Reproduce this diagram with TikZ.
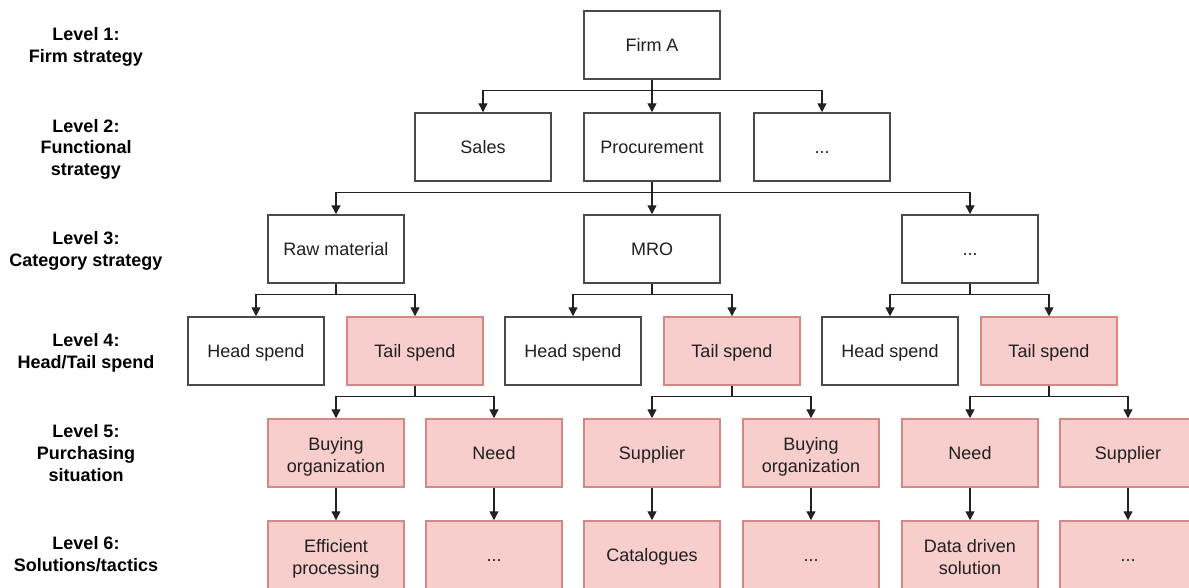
\documentclass[tikz,border=0pt]{standalone}
\usepackage{fontspec}
\setmainfont{Liberation Sans}
\usetikzlibrary{arrows.meta}
\definecolor{pinkfill}{HTML}{F8CECC}
\definecolor{pinkline}{HTML}{D38886}
\definecolor{boxline}{HTML}{4A4A4A}
\definecolor{wire}{HTML}{222222}
\newcommand\mystrut{\rule[-4.75pt]{0pt}{22.5pt}}
\newcommand\topstrut{\rule{0pt}{22pt}}
\begin{document}
\begin{tikzpicture}[x=1pt,y=-1pt,
  box/.style={draw=boxline, line width=1.5pt, fill=white, minimum width=136pt, minimum height=68pt,
    inner sep=0pt, align=center, font=\fontsize{18}{22.5}\selectfont, text=black!88,
    execute at begin node=\mystrut},
  tail/.style={box, draw=pinkline, fill=pinkfill},
  lvl/.style={align=center, font=\bfseries\fontsize{18}{21.5}\selectfont, text=black,
    execute at begin node=\rule{0pt}{22.5pt}},
  conn/.style={draw=wire, line width=1.4pt, -{Triangle[length=9pt,width=9pt]}}]
\useasboundingbox (0,0) rectangle (1189,587);
\clip (0,0) rectangle (1189,587);

% level labels
\node[lvl] (l1) at (86,47.5) {Level 1:\\Firm strategy\mystrut};
\node[lvl] (l2) at (86,149.5) {Level 2:\\Functional\\strategy\mystrut};
\node[lvl] (l3) at (86,251.5) {Level 3:\\Category strategy\mystrut};
\node[lvl] (l4) at (86,353.5) {Level 4:\\Head/Tail spend\mystrut};
\node[lvl] (l5) at (86,455.5) {Level 5:\\Purchasing\\situation\mystrut};
\node[lvl] (l6) at (86,556.5) {Level 6:\\Solutions/tactics\mystrut};

% level 1
\node[box] (firm) at (652,45) {Firm A};
% level 2
\node[box] (sales) at (483,147) {Sales};
\node[box] (proc) at (652,147) {Procurement};
\node[box] (fdots) at (822,147) {...};
% level 3
\node[box] (raw) at (336,249) {Raw material};
\node[box] (mro) at (652,249) {MRO};
\node[box] (cdots) at (970,249) {...};
% level 4
\node[box]  (h1) at (256,351) {Head spend};
\node[tail] (t1) at (415,351) {Tail spend};
\node[box]  (h2) at (573,351) {Head spend};
\node[tail] (t2) at (732,351) {Tail spend};
\node[box]  (h3) at (890,351) {Head spend};
\node[tail] (t3) at (1049,351) {Tail spend};
% level 5
\node[tail] (p1) at (336,453) {\topstrut Buying\\organization\mystrut};
\node[tail] (p2) at (494,453) {Need};
\node[tail] (p3) at (652,453) {Supplier};
\node[tail] (p4) at (811,453) {\topstrut Buying\\organization\mystrut};
\node[tail] (p5) at (970,453) {Need};
\node[tail] (p6) at (1128,453) {Supplier};
% level 6
\node[tail] (s1) at (336,555) {\topstrut Efficient\\processing\mystrut};
\node[tail] (s2) at (494,555) {...};
\node[tail] (s3) at (652,555) {Catalogues};
\node[tail] (s4) at (811,555) {...};
\node[tail] (s5) at (970,555) {\topstrut Data driven\\solution\mystrut};
\node[tail] (s6) at (1128,555) {...};

% connectors
\foreach \p/\c in {firm/sales, firm/proc, firm/fdots,
                   proc/raw, proc/mro, proc/cdots,
                   raw/h1, raw/t1, mro/h2, mro/t2, cdots/h3, cdots/t3,
                   t1/p1, t1/p2, t2/p3, t2/p4, t3/p5, t3/p6}
  \draw[conn] (\p.south) -- ++(0,11) -| (\c.north);
\foreach \p/\c in {p1/s1, p2/s2, p3/s3, p4/s4, p5/s5, p6/s6}
  \draw[conn] (\p.south) -- (\c.north);
\end{tikzpicture}
\end{document}
